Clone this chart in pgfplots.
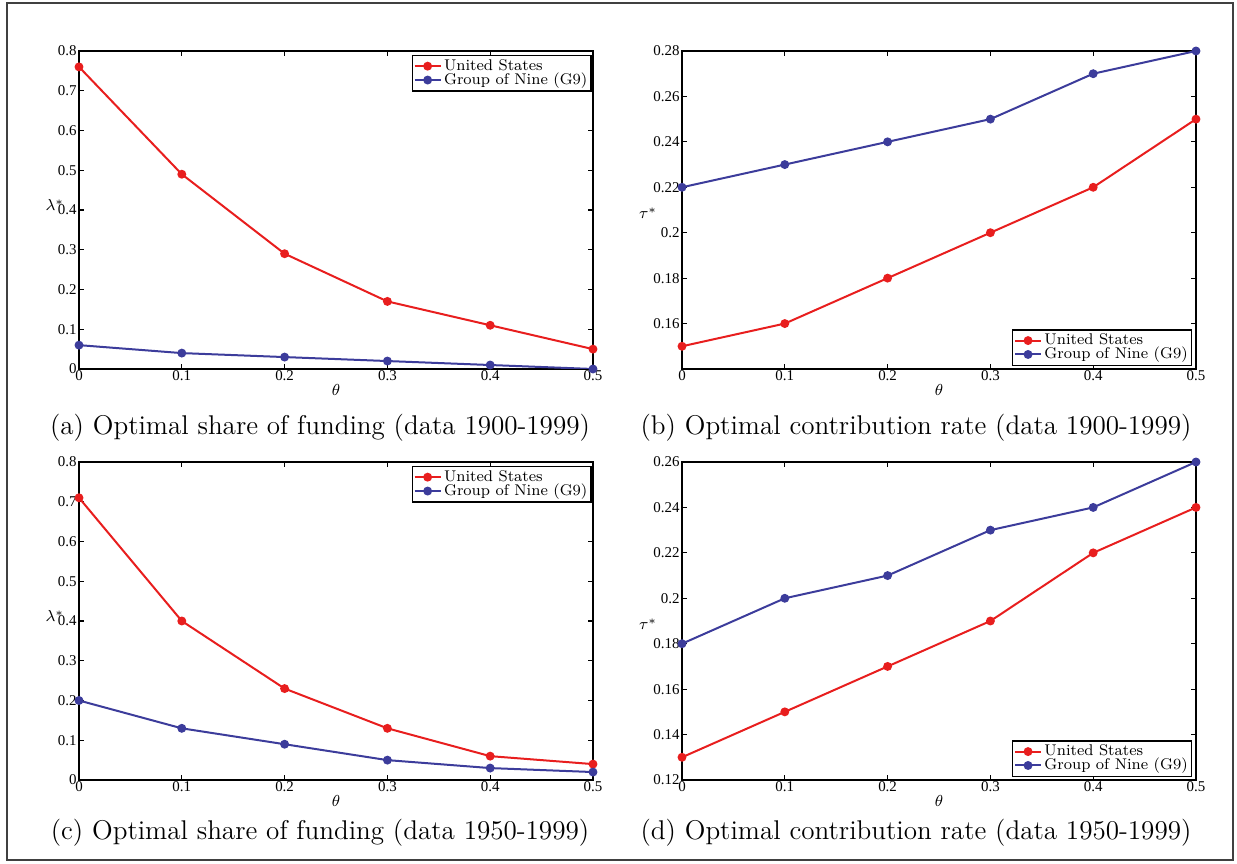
\documentclass[border=0pt]{standalone}
\usepackage{fontspec}
\usepackage{pgfplots}
\pgfplotsset{compat=1.18}
\newfontfamily\timesf{Liberation Serif}
\definecolor{usred}{RGB}{232,30,30}
\definecolor{gblue}{RGB}{60,60,155}
\pgfplotsset{
  mystyle/.style={
    scale only axis, width=257bp, height=159bp,
    xmin=0, xmax=0.5,
    xtick={0,0.1,0.2,0.3,0.4,0.5},
    xticklabels={0,0.1,0.2,0.3,0.4,0.5},
    tick align=inside, major tick length=2.5bp,
    axis line style={line width=0.75bp},
    every tick/.style={black, line width=0.6bp},
    tick label style={font=\fontsize{7.5}{8}\selectfont\timesf},
    /pgf/number format/assume math mode=true,
    xticklabel style={inner sep=1bp, yshift=0.5bp},
    yticklabel style={inner sep=1bp},
    every axis x label/.style={at={(axis description cs:0.5,0)}, anchor=center, yshift=-10.5bp, font=\fontsize{8.5}{9}\selectfont},
    legend style={font=\fontsize{7.8}{8}\selectfont, draw=black, line width=0.6bp, inner sep=0.6bp, row sep=-2.6bp,
      nodes={inner sep=1.2bp}},
    legend image code/.code={\draw[mark repeat=2,mark phase=2] plot coordinates {(0cm,0cm) (0.23cm,0cm) (0.46cm,0cm)};},
    legend cell align=left,
    xlabel={$\theta$},
  },
  us/.style={color=usred, line width=1bp, mark=*, mark size=1.7bp, mark options={solid}},
  g9/.style={color=gblue, line width=1bp, mark=*, mark size=1.7bp, mark options={solid}},
  lamstyle/.style={mystyle, ymin=0, ymax=0.8,
    ytick={0,0.1,0.2,0.3,0.4,0.5,0.6,0.7,0.8},
    yticklabels={0,0.1,0.2,0.3,0.4,0.5,0.6,0.7,0.8},
    every axis y label/.style={at={(axis description cs:-0.047,0.515)}, anchor=center, font=\fontsize{8.5}{9}\selectfont},
    ylabel={$\lambda^*$},
    legend style={at={(axis description cs:1,1)}, anchor=north east, xshift=-0.7bp, yshift=-2bp}},
  taustyle/.style={mystyle,
    every axis y label/.style={at={(axis description cs:-0.066,0.49)}, anchor=center, font=\fontsize{8.5}{9}\selectfont},
    ylabel={$\tau^*$},
    legend style={at={(axis description cs:1,0)}, anchor=south east, xshift=-2bp, yshift=1.5bp}},
}
\begin{document}
\begin{tikzpicture}
\useasboundingbox (0bp,0bp) rectangle (618.5bp,432bp);
\draw[line width=0.7bp, black!75] (3.5bp,2bp) rectangle (616.5bp,430.5bp);

% (a)
\begin{axis}[lamstyle, at={(39.5bp,247.5bp)}, anchor=south west]
\addplot[us] coordinates {(0,0.76) (0.1,0.49) (0.2,0.29) (0.3,0.17) (0.4,0.11) (0.5,0.05)};
\addlegendentry{United States}
\addplot[g9] coordinates {(0,0.06) (0.1,0.04) (0.2,0.03) (0.3,0.02) (0.4,0.01) (0.5,0.00)};
\addlegendentry{Group of Nine (G9)}
\end{axis}

% (b)
\begin{axis}[taustyle, at={(341bp,247.5bp)}, anchor=south west, ymin=0.14, ymax=0.28,
  ytick={0.16,0.18,0.2,0.22,0.24,0.26,0.28},
  yticklabels={0.16,0.18,0.2,0.22,0.24,0.26,0.28}]
\addplot[us] coordinates {(0,0.15) (0.1,0.16) (0.2,0.18) (0.3,0.20) (0.4,0.22) (0.5,0.25)};
\addlegendentry{United States}
\addplot[g9] coordinates {(0,0.22) (0.1,0.23) (0.2,0.24) (0.3,0.25) (0.4,0.27) (0.5,0.28)};
\addlegendentry{Group of Nine (G9)}
\end{axis}

% (c)
\begin{axis}[lamstyle, at={(39.5bp,42bp)}, anchor=south west]
\addplot[us] coordinates {(0,0.71) (0.1,0.40) (0.2,0.23) (0.3,0.13) (0.4,0.06) (0.5,0.04)};
\addlegendentry{United States}
\addplot[g9] coordinates {(0,0.20) (0.1,0.13) (0.2,0.09) (0.3,0.05) (0.4,0.03) (0.5,0.02)};
\addlegendentry{Group of Nine (G9)}
\end{axis}

% (d)
\begin{axis}[taustyle, at={(341bp,42bp)}, anchor=south west, ymin=0.12, ymax=0.26,
  ytick={0.12,0.14,0.16,0.18,0.2,0.22,0.24,0.26},
  yticklabels={0.12,0.14,0.16,0.18,0.2,0.22,0.24,0.26}]
\addplot[us] coordinates {(0,0.13) (0.1,0.15) (0.2,0.17) (0.3,0.19) (0.4,0.22) (0.5,0.24)};
\addlegendentry{United States}
\addplot[g9] coordinates {(0,0.18) (0.1,0.20) (0.2,0.21) (0.3,0.23) (0.4,0.24) (0.5,0.26)};
\addlegendentry{Group of Nine (G9)}
\end{axis}

\node[font=\fontsize{13.6}{16}\selectfont] at (160bp,218bp) {(a) Optimal share of funding (data 1900-1999)};
\node[font=\fontsize{13.6}{16}\selectfont] at (458bp,218bp) {(b) Optimal contribution rate (data 1900-1999)};
\node[font=\fontsize{13.6}{16}\selectfont] at (160bp,15.5bp) {(c) Optimal share of funding (data 1950-1999)};
\node[font=\fontsize{13.6}{16}\selectfont] at (458bp,15.5bp) {(d) Optimal contribution rate (data 1950-1999)};
\end{tikzpicture}
\end{document}
